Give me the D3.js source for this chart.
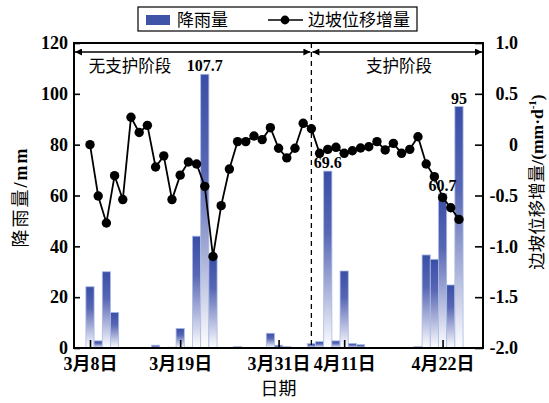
<!DOCTYPE html>
<html>
<head>
<meta charset="utf-8">
<script src="https://cdn.jsdelivr.net/npm/d3@7"></script>
<style>
  html, body { margin: 0; padding: 0; background: #fff; }
  svg { display: block; }
  text { -webkit-font-smoothing: antialiased; }
</style>
</head>
<body>
<div id="chart"></div>
<script>
// one entry per observation day (index along the x axis)
var dayIndex = d3.range(46);

// daily rainfall, mm
var rainfall = [24.1, 2.8, 30, 14, 0, 0, 0, 0, 1.1, 0, 0.3, 7.7, 0.3, 44, 107.7, 36,
    0, 0, 0.5, 0, 0, 0, 5.8, 1.1, 0.5, 0, 0, 1.7, 2.5, 69.6, 2.8, 30.3, 1.8, 1.3,
    0, 0, 0, 0, 0, 0, 0.5, 36.6, 34.9, 60.7, 24.8, 95];

// slope displacement increment, mm/d
var displacement = [0.0, -0.505, -0.77, -0.305, -0.54, 0.27, 0.12, 0.19, -0.22, -0.11,
    -0.54, -0.30, -0.17, -0.19, -0.41, -1.10, -0.60, -0.24, 0.03, 0.03, 0.085, 0.05,
    0.167, -0.035, -0.13, -0.035, 0.21, 0.157, -0.085, -0.046, -0.026, -0.085, -0.06,
    -0.033, -0.02, 0.03, -0.052, 0.013, -0.085, -0.046, 0.078, -0.19, -0.315, -0.52,
    -0.62, -0.735];

var tickIndex = [0, 11, 23, 31, 43];
var tickLabels = ['3月8日', '3月19日', '3月31日', '4月11日', '4月22日'];
var rainTicks = [0, 20, 40, 60, 80, 100, 120];
var dispTicks = [1.0, 0.5, 0, -0.5, -1.0, -1.5, -2.0];
var labelledBars = [14, 29, 43, 45];
var stageSplit = 27;

(function () {
    'use strict';
    var width = 549, height = 403;
    var m = { top: 43, right: 66, bottom: 55, left: 74 };
    var serif = '"Liberation Serif", "Times New Roman", serif';
    var cjk = '"Noto Sans CJK SC", sans-serif';
    var mixed = '"Liberation Serif", "Noto Sans CJK SC", serif';

    var svg = d3.select('#chart').append('svg')
        .attr('width', width)
        .attr('height', height);

    var defs = svg.append('defs');
    var grad = defs.append('linearGradient')
        .attr('id', 'barFill')
        .attr('x1', 0).attr('y1', 0).attr('x2', 0).attr('y2', 1);
    grad.append('stop').attr('offset', '0%').attr('stop-color', '#3a4ea6');
    grad.append('stop').attr('offset', '35%').attr('stop-color', '#5867b4');
    grad.append('stop').attr('offset', '100%').attr('stop-color', '#ffffff');

    var x = d3.scaleLinear().domain([-1.95, 47.93]).range([m.left, width - m.right]);
    var bw = x(1) - x(0);
    var yRain = d3.scaleLinear().domain([0, 120]).range([height - m.bottom, m.top]);
    var yDisp = d3.scaleLinear().domain([-2, 1]).range([height - m.bottom, m.top]);

    var plot = svg.append('g');

    //rainfall bars
    plot.selectAll('rect.bar')
        .data(dayIndex.filter(function (i) { return rainfall[i] > 0; }))
        .enter().append('rect')
            .attr('class', 'bar')
            .attr('x', function (i) { return x(i) - bw / 2; })
            .attr('y', function (i) { return yRain(rainfall[i]); })
            .attr('width', bw)
            .attr('height', function (i) { return yRain(0) - yRain(rainfall[i]); })
            .attr('fill', 'url(#barFill)')
            .attr('stroke', '#a9bce6')
            .attr('stroke-width', 0.8);

    // bar value labels
    plot.selectAll('text.barlab')
        .data(labelledBars)
        .enter().append('text')
            .attr('x', function (i) { return x(i); })
            .attr('y', function (i) { return yRain(rainfall[i]) - 3; })
            .attr('text-anchor', 'middle')
            .attr('font-family', serif)
            .attr('font-weight', 'bold')
            .attr('font-size', 16)
            .text(function (i) { return rainfall[i]; });

    // stage divider
    plot.append('line')
        .attr('x1', x(stageSplit)).attr('x2', x(stageSplit))
        .attr('y1', m.top).attr('y2', height - m.bottom)
        .attr('stroke', '#000').attr('stroke-width', 1.3)
        .attr('stroke-dasharray', '5,4');

    //displacement line
    var line = d3.line()
        .x(function (i) { return x(i); })
        .y(function (i) { return yDisp(displacement[i]); });

    plot.append('path')
        .datum(dayIndex)
        .attr('d', line)
        .attr('fill', 'none')
        .attr('stroke', '#000')
        .attr('stroke-width', 1.8);

    plot.selectAll('circle.pt')
        .data(dayIndex)
        .enter().append('circle')
            .attr('cx', function (i) { return x(i); })
            .attr('cy', function (i) { return yDisp(displacement[i]); })
            .attr('r', 4.7)
            .attr('fill', '#000');

    // stage arrows
    var arrowY = 52;
    defs.append('marker')
        .attr('id', 'arr')
        .attr('viewBox', '0 0 10 10')
        .attr('refX', 10).attr('refY', 5)
        .attr('markerWidth', 10).attr('markerHeight', 7)
        .attr('markerUnits', 'userSpaceOnUse')
        .attr('orient', 'auto-start-reverse')
        .append('path').attr('d', 'M0,0 L10,5 L0,10 z').attr('fill', '#000');

    [[m.left + 1, x(stageSplit) - 1], [x(stageSplit) + 1, width - m.right - 1]].forEach(function (seg) {
        plot.append('line')
            .attr('x1', seg[0]).attr('x2', seg[1])
            .attr('y1', arrowY).attr('y2', arrowY)
            .attr('stroke', '#000').attr('stroke-width', 1.3)
            .attr('marker-start', 'url(#arr)')
            .attr('marker-end', 'url(#arr)');
    });

    plot.append('text')
        .attr('x', 130).attr('y', 72)
        .attr('text-anchor', 'middle')
        .attr('font-family', cjk).attr('font-size', 16.5)
        .text('无支护阶段');
    plot.append('text')
        .attr('x', 399).attr('y', 72)
        .attr('text-anchor', 'middle')
        .attr('font-family', cjk).attr('font-size', 16.5)
        .text('支护阶段');

    // frame
    svg.append('rect')
        .attr('x', m.left).attr('y', m.top)
        .attr('width', width - m.left - m.right)
        .attr('height', height - m.top - m.bottom)
        .attr('fill', 'none').attr('stroke', '#000').attr('stroke-width', 2);

    //axes, ticks pointing inward
    var leftAxis = svg.append('g')
        .attr('transform', 'translate(' + m.left + ',0)')
        .call(d3.axisLeft(yRain).tickValues(rainTicks).tickSize(-6).tickPadding(6));
    var rightAxis = svg.append('g')
        .attr('transform', 'translate(' + (width - m.right) + ',0)')
        .call(d3.axisRight(yDisp).tickValues(dispTicks).tickSize(-8).tickPadding(14)
            .tickFormat(function (d) { return d === 0 ? '0' : d.toFixed(1); }));
    var bottomAxis = svg.append('g')
        .attr('transform', 'translate(0,' + (height - m.bottom) + ')')
        .call(d3.axisBottom(x).tickValues(tickIndex).tickSize(-8).tickPadding(9)
            .tickFormat(function (d, i) { return tickLabels[i]; }));

    [leftAxis, rightAxis, bottomAxis].forEach(function (a) {
        a.select('.domain').remove();
        a.selectAll('.tick line').attr('stroke', '#000').attr('stroke-width', 1.6);
        a.selectAll('.tick text')
            .attr('fill', '#000')
            .attr('font-family', mixed)
            .attr('font-weight', 'bold')
            .attr('font-size', 18);
    });
    rightAxis.selectAll('.tick text')
        .attr('text-anchor', 'end')
        .attr('x', 35);

    // axis titles
    var lt = svg.append('text')
        .attr('transform', 'translate(27,197) rotate(-90)')
        .attr('text-anchor', 'middle')
        .attr('letter-spacing', 2)
        .attr('font-size', 18);
    lt.append('tspan').attr('font-family', cjk).text('降雨量');
    lt.append('tspan').attr('font-family', serif).attr('font-weight', 'bold').text('/mm');

    var rt = svg.append('text')
        .attr('transform', 'translate(543,182) rotate(-90)')
        .attr('text-anchor', 'middle')
        .attr('font-size', 17.5);
    rt.append('tspan').attr('font-family', cjk).text('边坡位移增量');
    rt.append('tspan').attr('font-family', serif).attr('font-weight', 'bold').text('/(mm·d');
    rt.append('tspan').attr('font-family', serif).attr('font-weight', 'bold')
        .attr('font-size', 11).attr('dy', -7).text('-1');
    rt.append('tspan').attr('font-family', serif).attr('font-weight', 'bold')
        .attr('dy', 7).text(')');

    svg.append('text')
        .attr('x', (m.left + width - m.right) / 2)
        .attr('y', 395)
        .attr('text-anchor', 'middle')
        .attr('font-family', cjk).attr('font-size', 18)
        .text('日期');

    //legend
    var lg = svg.append('g');
    lg.append('rect')
        .attr('x', 138).attr('y', 7).attr('width', 279).attr('height', 24)
        .attr('fill', '#fff').attr('stroke', '#000').attr('stroke-width', 1.2);
    lg.append('rect')
        .attr('x', 146).attr('y', 15).attr('width', 24).attr('height', 10)
        .attr('fill', '#3f54a8');
    lg.append('text')
        .attr('x', 177).attr('y', 26)
        .attr('font-family', cjk).attr('font-size', 17)
        .text('降雨量');
    lg.append('line')
        .attr('x1', 268).attr('x2', 303).attr('y1', 20).attr('y2', 20)
        .attr('stroke', '#000').attr('stroke-width', 1.6);
    lg.append('circle')
        .attr('cx', 285).attr('cy', 20).attr('r', 4.4).attr('fill', '#000');
    lg.append('text')
        .attr('x', 308).attr('y', 26)
        .attr('font-family', cjk).attr('font-size', 17)
        .text('边坡位移增量');

    return this;
})();
</script>
</body>
</html>
